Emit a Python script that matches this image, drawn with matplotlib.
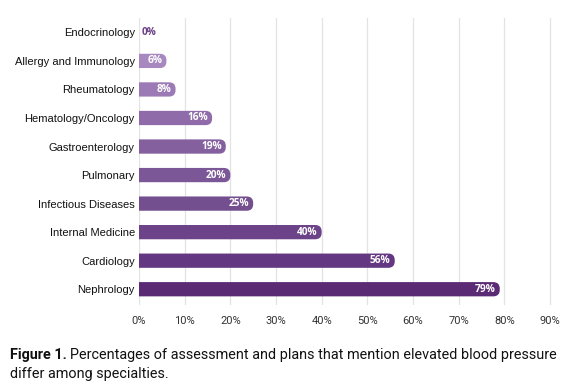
import matplotlib.pyplot as plt
from matplotlib.patches import FancyBboxPatch

specialties = ['Endocrinology', 'Allergy and Immunology', 'Rheumatology',
               'Hematology/Oncology', 'Gastroenterology', 'Pulmonary',
               'Infectious Diseases', 'Internal Medicine', 'Cardiology',
               'Nephrology']
percents = [0, 6, 8, 16, 19, 20, 25, 40, 56, 79]
bar_colors = ['#6a3f85', '#a789c0', '#9b7ab5', '#8f6ca9', '#85609f',
              '#7c5797', '#744f90', '#6c4389', '#633782', '#5b2a75']
xticks = list(range(0, 100, 10))

fig = plt.figure(figsize=(5.7, 3.85), dpi=100)
ax = fig.add_axes([0.2439, 0.208, 0.729, 0.745])

ypos = list(range(len(specialties)))
bars = ax.barh(ypos, percents, height=0.5, color=bar_colors, zorder=2)

# swap each bar for a rounded one (left end clipped at 0 by the axes)
xpx = 0.729 * 570 / 91.0
ypx = 0.745 * 385 / 10.05
aspect = xpx / ypx
for b, c in zip(bars, bar_colors):
    w = b.get_width()
    b.set_visible(False)
    if w <= 0:
        continue
    r = 6.5 / xpx
    p = FancyBboxPatch((-2, b.get_y()), w + 2, b.get_height(),
                       boxstyle=f'round,pad=0,rounding_size={r}',
                       mutation_aspect=aspect, fc=c, ec='none', zorder=2)
    ax.add_patch(p)

for y, v in zip(ypos, percents):
    if v == 0:
        ax.text(0.6, y, f'{v}%', ha='left', va='center', color='#6a3f85',
                fontsize=7.3, fontweight='bold', family='Open Sans')
    else:
        ax.text(v - 0.9, y, f'{v}%', ha='right', va='center', color='white',
                fontsize=7.3, fontweight='bold', family='Open Sans', zorder=3)

ax.set_xlim(0, 91)
ax.set_ylim(9.55, -0.5)
ax.set_xticks(xticks)
ax.set_xticklabels([f'{t}%' for t in xticks], family='Roboto', fontsize=8,
                   color='#333333')
ax.set_yticks(ypos)
ax.set_yticklabels(specialties, family='Liberation Sans', fontsize=8,
                   color='#111111')
ax.grid(axis='x', color='#e3e3e3', lw=0.9, zorder=0)
ax.set_axisbelow(True)
for s in ax.spines.values():
    s.set_visible(False)
ax.tick_params(axis='y', length=0, pad=3)
ax.tick_params(axis='x', length=0, pad=8)

# caption: bold "Figure 1." followed by regular text
cap_size = 10.4
t1 = fig.text(0.018, 0.068, 'Figure 1.', fontsize=cap_size, family='Roboto',
              fontweight='bold', va='baseline', color='#111111')
fig.canvas.draw()
bb = t1.get_window_extent(renderer=fig.canvas.get_renderer())
x2 = (bb.x1 + 3) / fig.bbox.width
fig.text(x2, 0.068,
         'Percentages of assessment and plans that mention elevated blood pressure',
         fontsize=cap_size, family='Roboto', va='baseline', color='#111111')
fig.text(0.018, 0.018, 'differ among specialties.', fontsize=cap_size,
         family='Roboto', va='baseline', color='#111111')

fig.savefig('out.png', dpi=100)
